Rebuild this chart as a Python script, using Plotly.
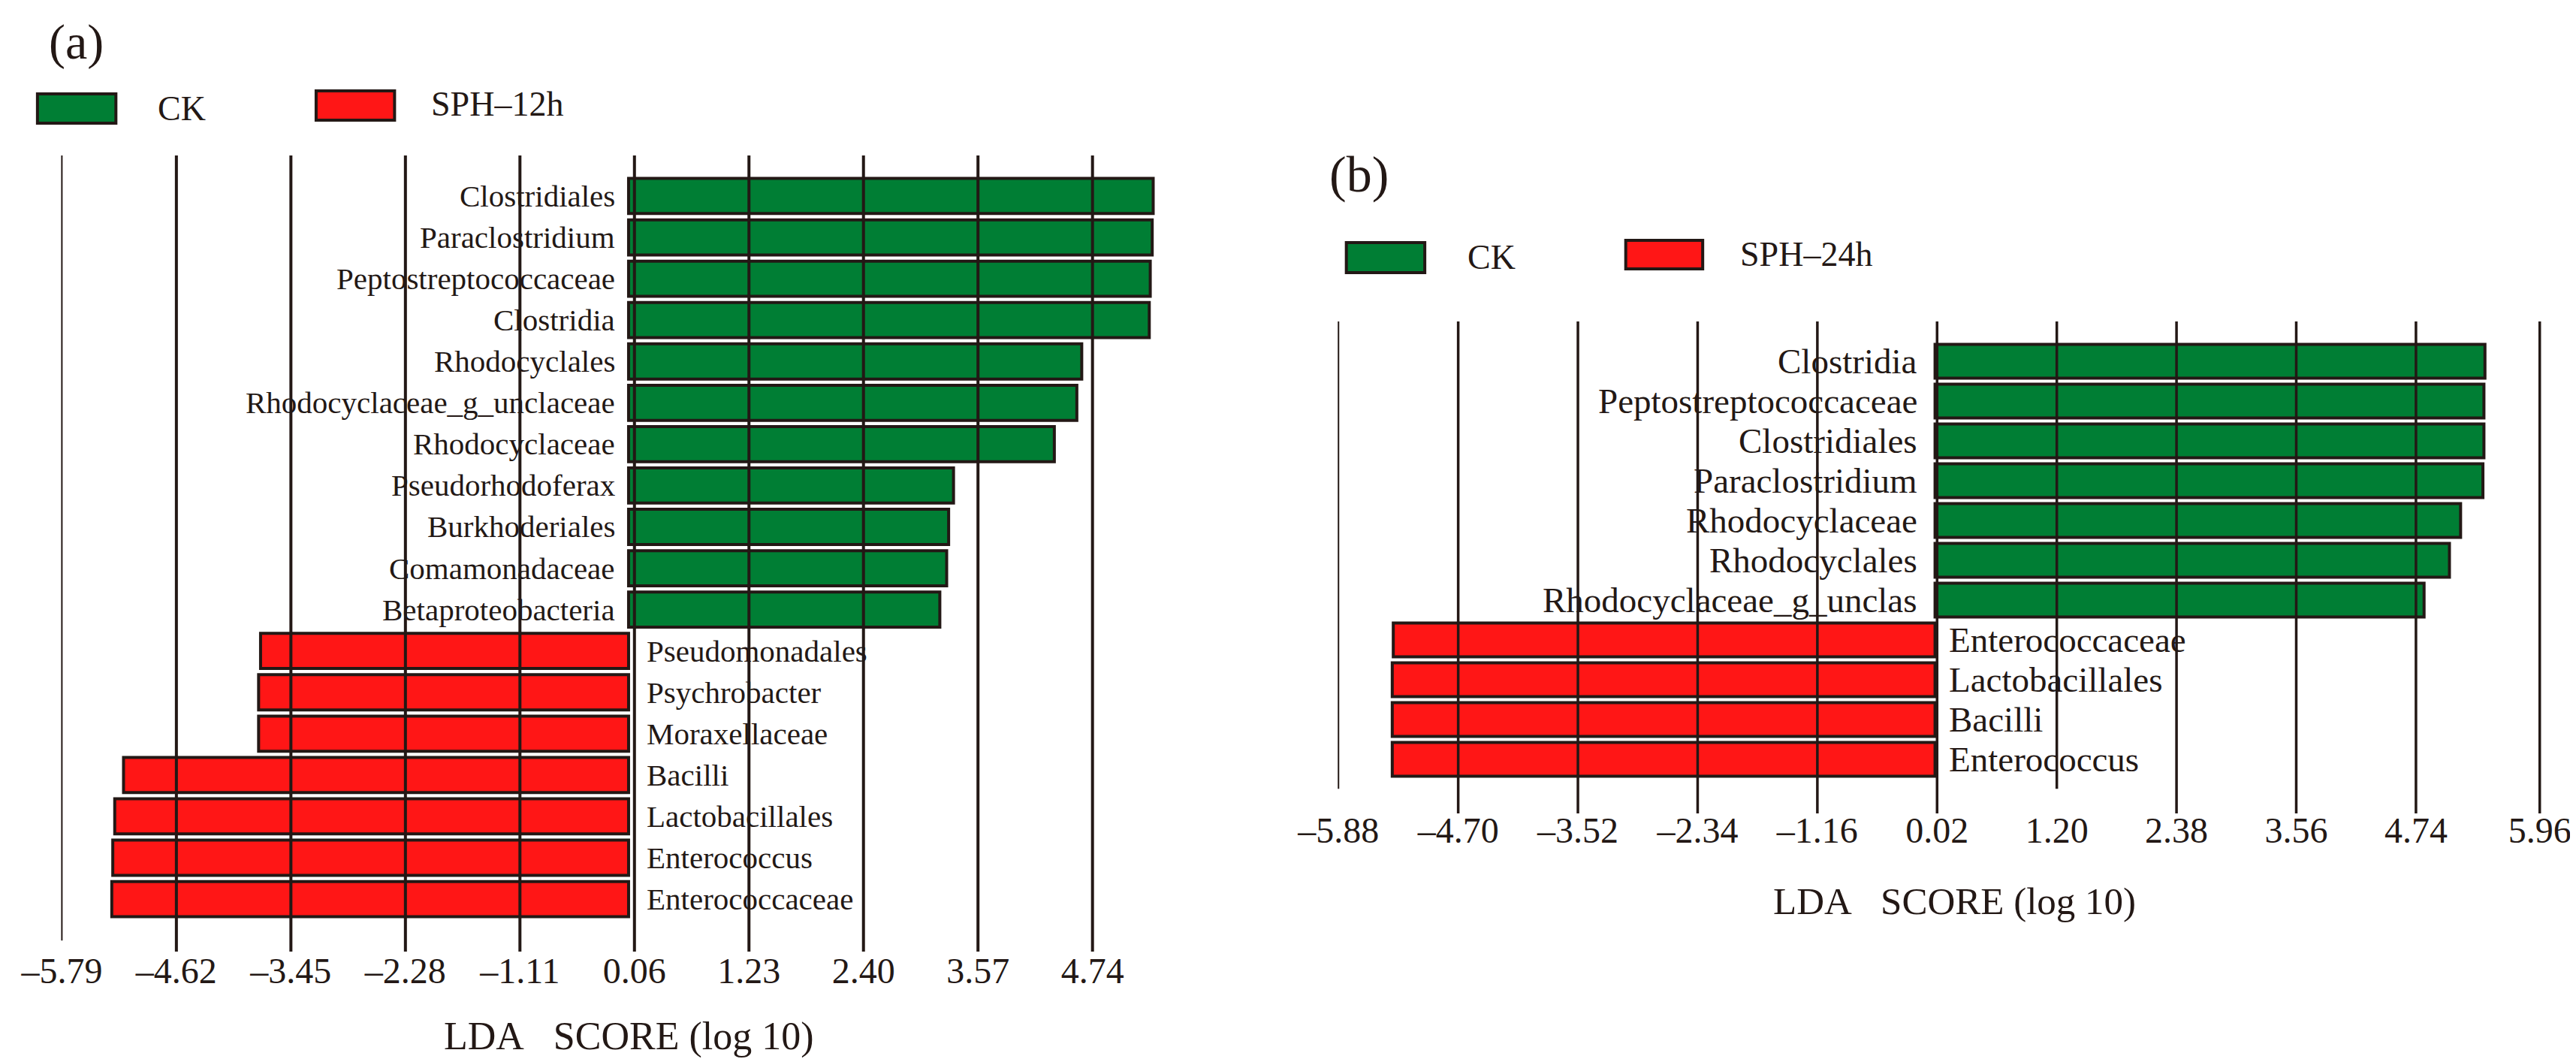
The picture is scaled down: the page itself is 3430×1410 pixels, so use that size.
import plotly.graph_objects as go

# ---------------- data ----------------
# Panel (a): CK vs SPH-12h (top to bottom)
a_ck_names = ["Clostridiales", "Paraclostridium", "Peptostreptococcaceae", "Clostridia",
              "Rhodocyclales", "Rhodocyclaceae_g_unclaceae", "Rhodocyclaceae",
              "Pseudorhodoferax", "Burkhoderiales", "Comamonadaceae", "Betaproteobacteria"]
a_ck_vals = [5.36, 5.35, 5.33, 5.32, 4.63, 4.58, 4.35, 3.32, 3.27, 3.25, 3.18]
a_sph_names = ["Pseudomonadales", "Psychrobacter", "Moraxellaceae", "Bacilli",
               "Lactobacillales", "Enterococcus", "Enterococcaceae"]
a_sph_vals = [-3.76, -3.78, -3.78, -5.16, -5.25, -5.27, -5.28]
a_ticks = [-5.79, -4.62, -3.45, -2.28, -1.11, 0.06, 1.23, 2.40, 3.57, 4.74]
a_ticklabels = ["–5.79", "–4.62", "–3.45", "–2.28", "–1.11", "0.06", "1.23", "2.40", "3.57", "4.74"]

# Panel (b): CK vs SPH-24h (top to bottom)
b_ck_names = ["Clostridia", "Peptostreptococcaceae", "Clostridiales", "Paraclostridium",
              "Rhodocyclaceae", "Rhodocyclales", "Rhodocyclaceae_g_unclas"]
b_ck_vals = [5.42, 5.41, 5.41, 5.40, 5.18, 5.07, 4.82]
b_sph_names = ["Enterococcaceae", "Lactobacillales", "Bacilli", "Enterococcus"]
b_sph_vals = [-5.34, -5.35, -5.35, -5.35]
b_ticks = [-5.88, -4.70, -3.52, -2.34, -1.16, 0.02, 1.20, 2.38, 3.56, 4.74, 5.96]
b_ticklabels = ["–5.88", "–4.70", "–3.52", "–2.34", "–1.16", "0.02", "1.20", "2.38", "3.56", "4.74", "5.96"]

group_ck = "CK"
group_a = "SPH–12h"
group_b = "SPH–24h"
axis_title = "LDA\u00a0\u00a0\u00a0SCORE (log 10)"

# ---------------- style ----------------
W, H = 3430, 1410
GREEN = "rgb(0,126,52)"
RED = "rgb(255,22,22)"
DARK = "#231815"
FONT = "Liberation Serif, Times New Roman, serif"


def fx(p):
    return p / W


def fy(p):
    return 1 - p / H


fig = go.Figure()

fig.add_trace(go.Bar(y=a_ck_names, x=a_ck_vals, orientation="h", name=group_ck,
                     marker=dict(color=GREEN, line=dict(color=DARK, width=4)),
                     width=0.85, xaxis="x", yaxis="y", showlegend=False))
fig.add_trace(go.Bar(y=a_sph_names, x=a_sph_vals, orientation="h", name=group_a,
                     marker=dict(color=RED, line=dict(color=DARK, width=4)),
                     width=0.85, xaxis="x", yaxis="y", showlegend=False))
fig.add_trace(go.Bar(y=b_ck_names, x=b_ck_vals, orientation="h", name=group_ck,
                     marker=dict(color=GREEN, line=dict(color=DARK, width=4)),
                     width=0.85, xaxis="x2", yaxis="y2", showlegend=False))
fig.add_trace(go.Bar(y=b_sph_names, x=b_sph_vals, orientation="h", name=group_b,
                     marker=dict(color=RED, line=dict(color=DARK, width=4)),
                     width=0.85, xaxis="x2", yaxis="y2", showlegend=False))

a_names = a_ck_names + a_sph_names
b_names = b_ck_names + b_sph_names

common_x = dict(showgrid=False, zeroline=False, showline=False, ticks="",
                tickangle=0, tickfont=dict(family=FONT, size=48, color=DARK), fixedrange=True)
common_y = dict(type="category", categoryorder="array", showgrid=False, zeroline=False,
                showline=False, showticklabels=False, ticks="", fixedrange=True)

fig.update_layout(
    width=W, height=H, margin=dict(l=0, r=0, t=0, b=0),
    paper_bgcolor="white", plot_bgcolor="rgba(0,0,0,0)",
    barmode="overlay",
    font=dict(family=FONT, color=DARK),
    xaxis=dict(domain=[fx(20), fx(1600)], range=[-6.07, 5.99], anchor="y",
               tickvals=a_ticks, ticktext=a_ticklabels, ticklabelstandoff=-7, **common_x),
    yaxis=dict(domain=[fy(1259), fy(199)], range=[18.27, -0.98], anchor="x",
               categoryarray=a_names, **common_y),
    xaxis2=dict(domain=[fx(1720), fx(3420)], range=[-6.215, 6.303], anchor="y2",
                tickvals=b_ticks, ticktext=b_ticklabels, ticklabelstandoff=-10, **common_x),
    yaxis2=dict(domain=[fy(1075), fy(420)], range=[11.36, -1.0], anchor="x2",
                categoryarray=b_names, **common_y),
)

shapes = []
# vertical reference lines at tick positions, drawn over the bars
for i, v in enumerate(a_ticks):
    shapes.append(dict(type="line", xref="x", yref="y domain", x0=v, x1=v,
                       y0=0.014 if i == 0 else 0, y1=1,
                       line=dict(color=DARK, width=2 if i == 0 else 4), layer="above"))
for i, v in enumerate(b_ticks):
    short = i in (0, 6)
    shapes.append(dict(type="line", xref="x2", yref="y2 domain", x0=v, x1=v,
                       y0=0.05 if short else 0, y1=1,
                       line=dict(color=DARK, width=2 if i == 0 else 3.5), layer="above"))


# legend swatches
def swatch(x0, y0, x1, y1, color):
    return dict(type="rect", xref="paper", yref="paper", x0=fx(x0), x1=fx(x1),
                y0=fy(y1), y1=fy(y0), fillcolor=color, line=dict(color=DARK, width=4))


shapes += [swatch(24, 117, 129, 156, GREEN), swatch(397, 113, 502, 152, RED),
           swatch(1776, 315, 1881, 355, GREEN), swatch(2150, 312, 2253, 350, RED)]
fig.update_layout(shapes=shapes)

ann = []


def txt(s, x, y, size, xanchor="left"):
    ann.append(dict(text=s, xref="paper", yref="paper", x=fx(x), y=fy(y),
                    xanchor=xanchor, yanchor="middle", showarrow=False,
                    font=dict(family=FONT, size=size, color=DARK)))


txt("(a)", 76, 48, 66, "center")
txt("(b)", 1793, 224, 68, "center")
txt(group_ck, 183, 136, 46)
txt(group_a, 549, 131, 46)
txt(group_ck, 1936, 335, 46)
txt(group_b, 2301, 330, 46)
txt(axis_title, 816, 1372, 52, "center")
txt(axis_title, 2590, 1192, 51, "center")

for n in a_ck_names:
    ann.append(dict(text=n, xref="x", yref="y", x=0, y=n, xanchor="right", xshift=-16,
                    yanchor="middle", showarrow=False, font=dict(family=FONT, size=41, color=DARK)))
for n in a_sph_names:
    ann.append(dict(text=n, xref="x", yref="y", x=0, y=n, xanchor="left", xshift=22,
                    yanchor="middle", showarrow=False, font=dict(family=FONT, size=41, color=DARK)))
for n in b_ck_names:
    ann.append(dict(text=n, xref="x2", yref="y2", x=0, y=n, xanchor="right", xshift=-22,
                    yanchor="middle", showarrow=False, font=dict(family=FONT, size=47, color=DARK)))
for n in b_sph_names:
    ann.append(dict(text=n, xref="x2", yref="y2", x=0, y=n, xanchor="left", xshift=16,
                    yanchor="middle", showarrow=False, font=dict(family=FONT, size=47, color=DARK)))

fig.update_layout(annotations=ann)

fig.write_html("out.html")
